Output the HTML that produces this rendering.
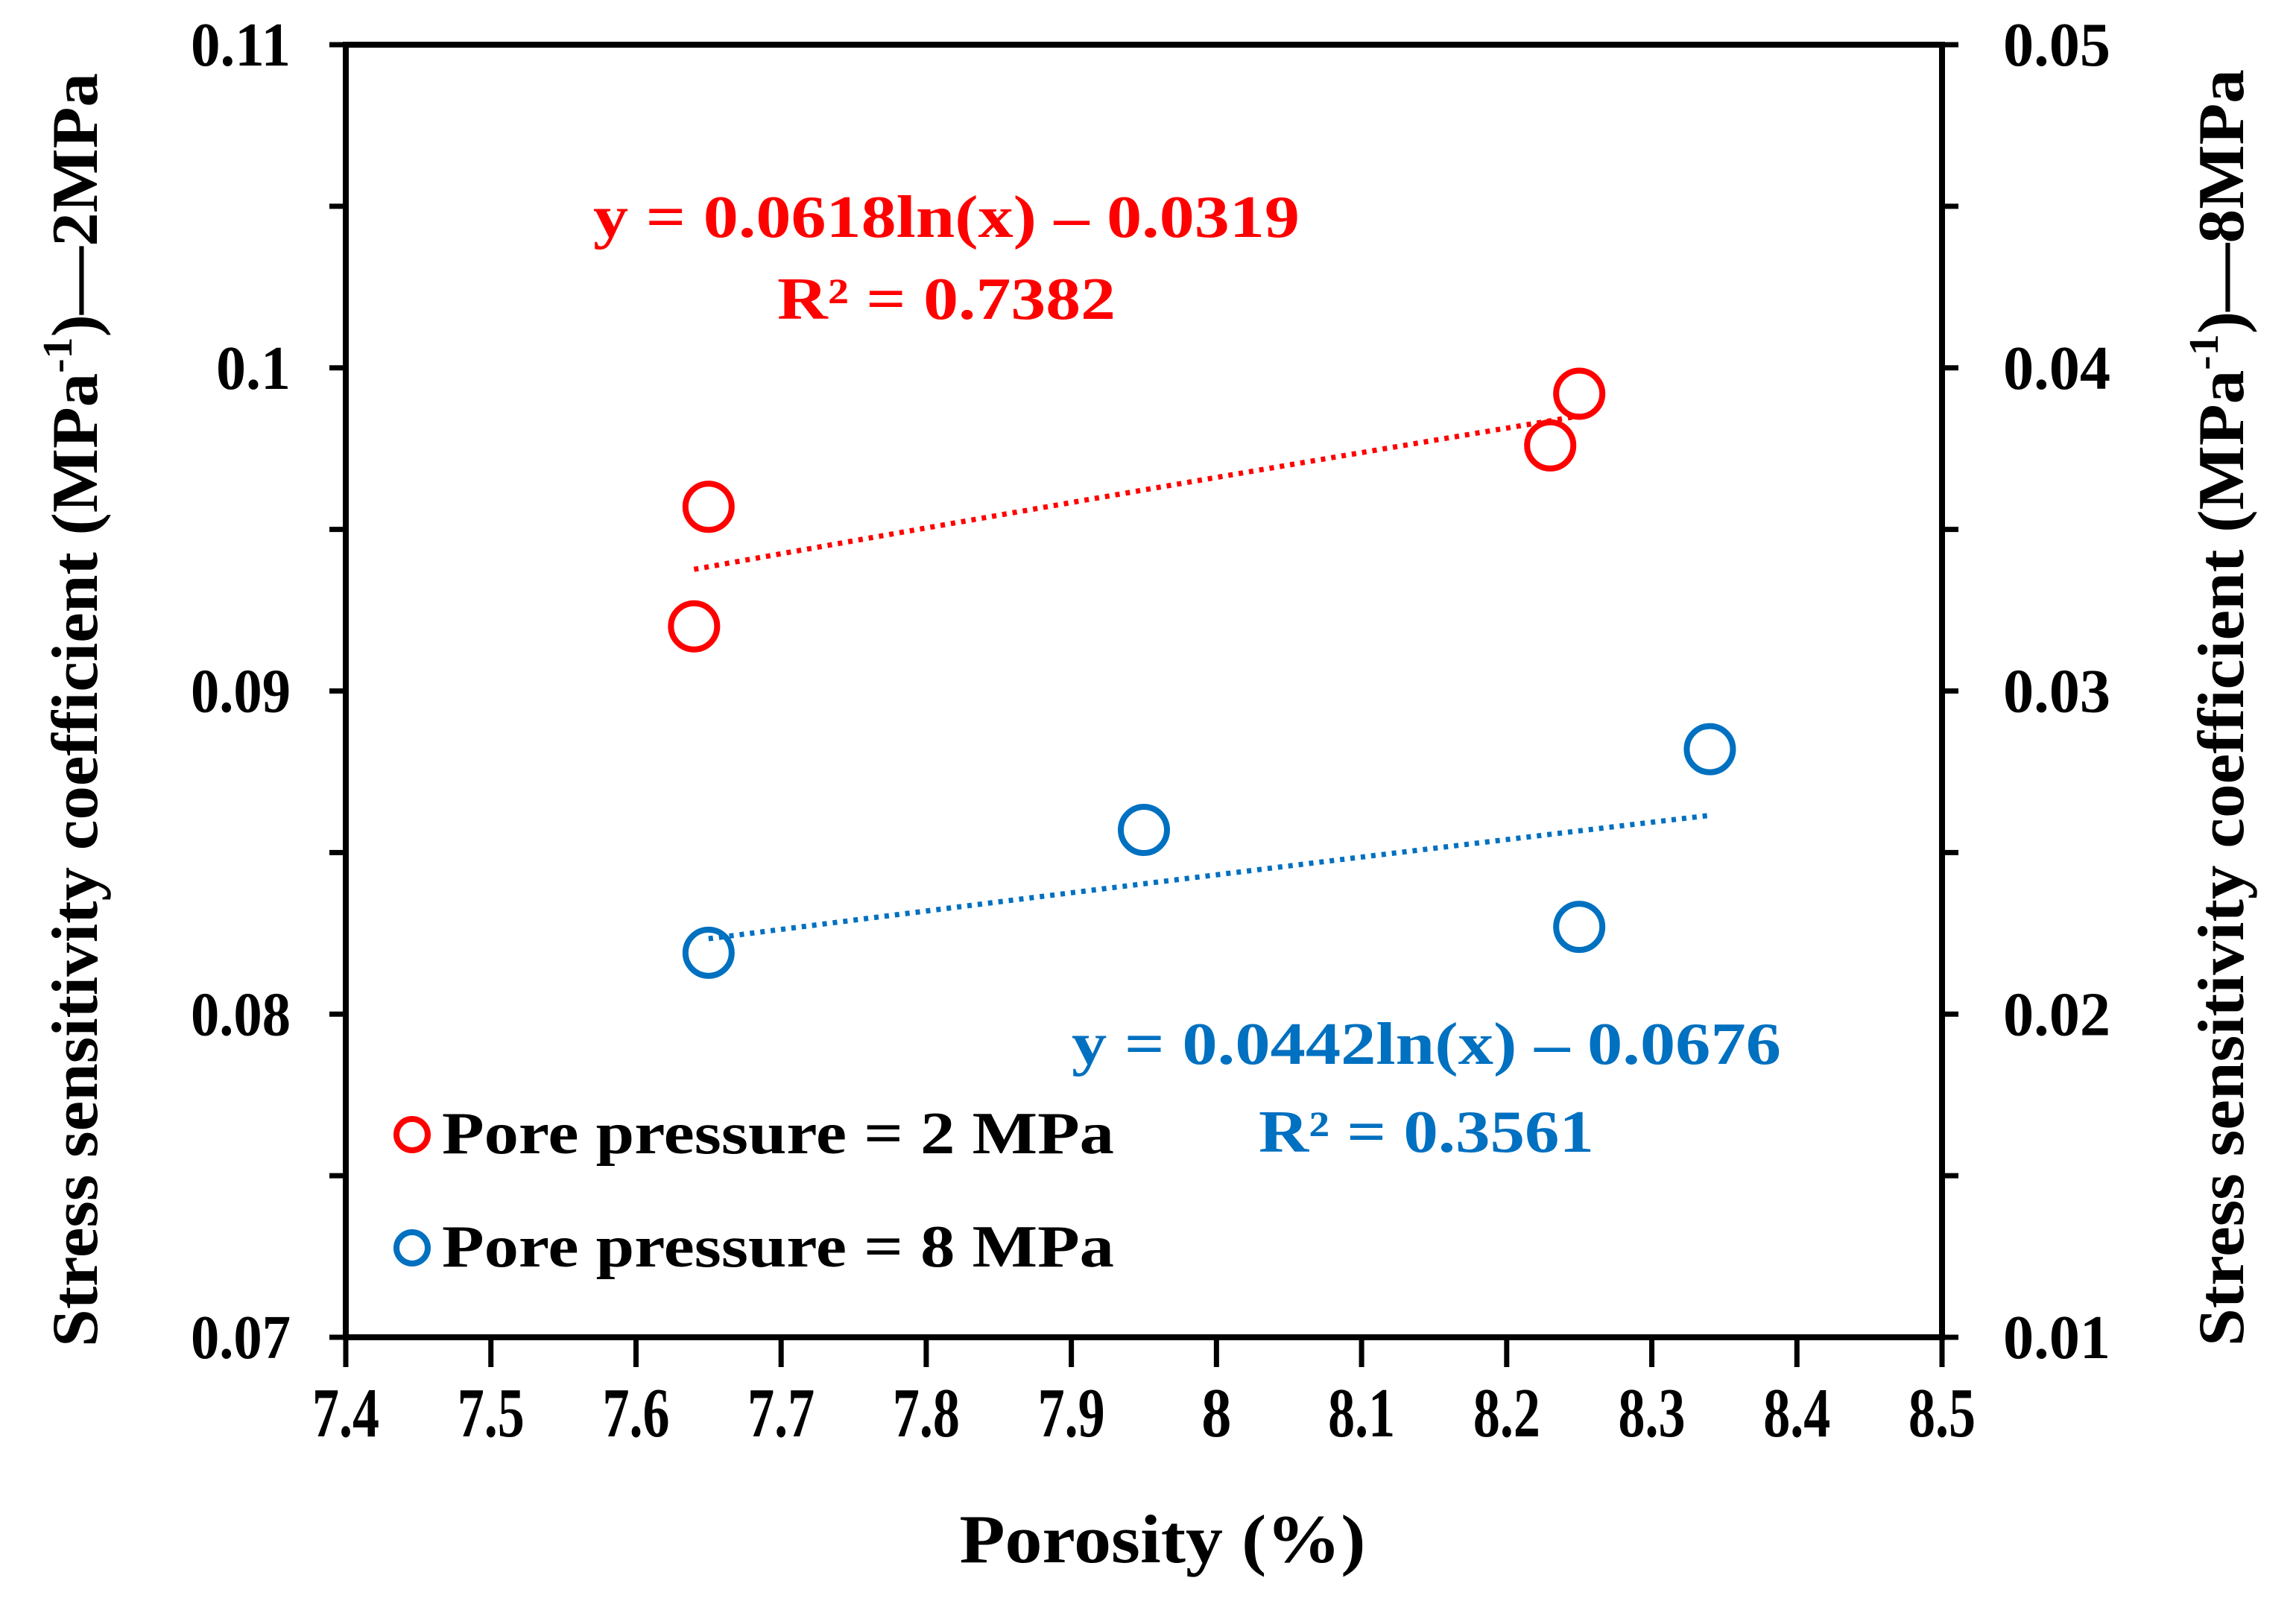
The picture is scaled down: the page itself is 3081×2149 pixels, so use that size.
<!DOCTYPE html>
<html><head><meta charset="utf-8"><style>
html,body{margin:0;padding:0;background:#fff;}
svg{display:block;font-family:"Liberation Serif","Times New Roman",serif;font-weight:bold;}
</style></head><body>
<svg id="chart" width="3081" height="2149" viewBox="0 0 3081 2149" xmlns="http://www.w3.org/2000/svg">
<g id="axes"></g>
<g id="marks"></g>
<text x="1560" y="2097" font-size="92" text-anchor="middle" textLength="545" lengthAdjust="spacingAndGlyphs">Porosity (%)</text>
<text transform="translate(130,953) rotate(-90)" font-size="88" text-anchor="middle" textLength="1710" lengthAdjust="spacingAndGlyphs">Stress sensitivity  coefficient (MPa<tspan font-size="56" dy="-34">-1</tspan><tspan dy="34">)</tspan>—2MPa</text>
<text transform="translate(3010,950) rotate(-90)" font-size="88" text-anchor="middle" textLength="1714" lengthAdjust="spacingAndGlyphs">Stress sensitivity  coefficient (MPa<tspan font-size="56" dy="-34">-1</tspan><tspan dy="34">)</tspan>—8MPa</text>
<text x="796" y="318" font-size="80" fill="#ff0000" textLength="948" lengthAdjust="spacingAndGlyphs">y = 0.0618ln(x) – 0.0319</text>
<text x="1043" y="428" font-size="80" fill="#ff0000" textLength="454" lengthAdjust="spacingAndGlyphs">R² = 0.7382</text>
<text x="1438" y="1428" font-size="80" fill="#0070c0" textLength="952" lengthAdjust="spacingAndGlyphs">y = 0.0442ln(x) – 0.0676</text>
<text x="1689" y="1546" font-size="80" fill="#0070c0" textLength="450" lengthAdjust="spacingAndGlyphs">R² = 0.3561</text>
<g>
<circle cx="553" cy="1523" r="21" fill="none" stroke="#ff0000" stroke-width="8"/>
<text x="593" y="1548" font-size="80" textLength="902" lengthAdjust="spacingAndGlyphs">Pore pressure = 2 MPa</text>
<circle cx="553" cy="1675" r="21" fill="none" stroke="#0070c0" stroke-width="8"/>
<text x="593" y="1700" font-size="80" textLength="902" lengthAdjust="spacingAndGlyphs">Pore pressure = 8 MPa</text>
</g>
</svg>
<script>
const xTicks = [7.4,7.5,7.6,7.7,7.8,7.9,8.0,8.1,8.2,8.3,8.4,8.5];
const xTickLabels = ["7.4","7.5","7.6","7.7","7.8","7.9","8","8.1","8.2","8.3","8.4","8.5"];
const leftTicks = [0.07,0.08,0.09,0.10,0.11];
const leftTickLabels = ["0.07","0.08","0.09","0.1","0.11"];
const rightTicks = [0.01,0.02,0.03,0.04,0.05];
const rightTickLabels = ["0.01","0.02","0.03","0.04","0.05"];
const redX = [7.64,7.65,8.23,8.25];
const redY = [0.0920,0.0957,0.0976,0.0992];
const blueX = [7.65,7.95,8.25,8.34];
const blueY = [0.0219,0.0257,0.0227,0.0282];
const redFit = [0.0618,-0.0319];
const blueFit = [0.0442,-0.0676];

const NS="http://www.w3.org/2000/svg";
const L=464,R=2606,T=60,B=1795;
const xs=v=>L+(v-7.4)/(8.5-7.4)*(R-L);
const yl=v=>B-(v-0.07)/(0.11-0.07)*(B-T);
const yr=v=>B-(v-0.01)/(0.05-0.01)*(B-T);
function mk(tag,parent,attrs){const e=document.createElementNS(NS,tag);for(const k in attrs)e.setAttribute(k,attrs[k]);parent.appendChild(e);return e;}
const axes=document.getElementById('axes'), marks=document.getElementById('marks');
const frame=mk('rect',axes,{x:L,y:T,width:R-L,height:B-T,fill:'none',stroke:'#000','stroke-width':8});


xTicks.forEach((v,i)=>{
  const t=mk('line',axes,{x1:xs(v),x2:xs(v),y1:B,y2:B+40,stroke:'#000','stroke-width':7});
  
  
  const tx=mk('text',axes,{x:xs(v),y:1928,'font-size':94,'text-anchor':'middle',textLength:(xTickLabels[i].length===1?40:90),lengthAdjust:'spacingAndGlyphs'});
  tx.textContent=xTickLabels[i];
  
  
});
for(let k=0;k<=8;k++){
  const v=0.07+k*0.005;
  const t=mk('line',axes,{x1:L-22,x2:L,y1:yl(v),y2:yl(v),stroke:'#000','stroke-width':7});
  
  
  const v2=0.01+k*0.005;
  const t2=mk('line',axes,{x1:R,x2:R+22,y1:yr(v2),y2:yr(v2),stroke:'#000','stroke-width':7});
  
  
}
leftTicks.forEach((v,i)=>{
  const tx=mk('text',axes,{x:390,y:yl(v)+28,'font-size':84,'text-anchor':'end',textLength:(leftTickLabels[i].length===3?100:134),lengthAdjust:'spacingAndGlyphs'});
  tx.textContent=leftTickLabels[i];
  
  
});
rightTicks.forEach((v,i)=>{
  const tx=mk('text',axes,{x:2688,y:yr(v)+28,'font-size':84,'text-anchor':'start',textLength:144,lengthAdjust:'spacingAndGlyphs'});
  tx.textContent=rightTickLabels[i];
  
  
});
function trend(xArr,fit,yf,color){
  const x0=Math.min(...xArr),x1=Math.max(...xArr);
  const pts=[];
  for(let k=0;k<=20;k++){const x=x0+(x1-x0)*k/20;pts.push(xs(x)+','+yf(fit[0]*Math.log(x)+fit[1]));}
  return mk('polyline',marks,{points:pts.join(' '),fill:'none',stroke:color,'stroke-width':7,'stroke-dasharray':'6 8'});
}
const rt=trend(redX,redFit,yl,'#ff0000');


const bt=trend(blueX,blueFit,yr,'#0070c0');


redX.forEach((x,i)=>{
  const c=mk('circle',marks,{cx:xs(x),cy:yl(redY[i]),r:31,fill:'none',stroke:'#ff0000','stroke-width':8});
  
  
});
blueX.forEach((x,i)=>{
  const c=mk('circle',marks,{cx:xs(x),cy:yr(blueY[i]),r:31,fill:'none',stroke:'#0070c0','stroke-width':8});
  
  
});
</script>
</body></html>
